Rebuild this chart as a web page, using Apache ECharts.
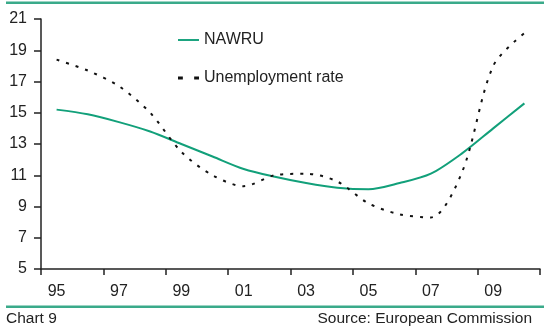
<!DOCTYPE html>
<html>
<head>
<meta charset="utf-8">
<script src="https://cdn.jsdelivr.net/npm/echarts@6/dist/echarts.min.js"></script>
<style>
  html, body { margin: 0; padding: 0; background: #fff; }
  #chart { width: 544px; height: 328px; }
</style>
</head>
<body>
<div id="chart"></div>
<script>
// Years shown on the category axis (labels every other year)
const years = ['95','96','97','98','99','00','01','02','03','04','05','06','07','08','09','10'];
// Non-accelerating wage rate of unemployment, %
const nawru = [15.2, 14.9, 14.4, 13.8, 13.0, 12.2, 11.4, 10.9, 10.5, 10.2, 10.1, 10.5, 11.1, 12.4, 14.0, 15.6];
// Actual unemployment rate, %
const unemployment = [18.4, 17.7, 16.7, 15.0, 12.5, 11.0, 10.3, 11.0, 11.1, 10.6, 9.2, 8.5, 8.3, 11.2, 18.0, 20.1];
// Y-axis range
const yMin = 5, yMax = 21, yStep = 2;

const green = '#12a07a';
const font = 'Liberation Sans, Arial, sans-serif';

const chart = echarts.init(document.getElementById('chart'));
chart.setOption({
  animation: false,
  textStyle: { fontFamily: font },
  grid: { left: 41, right: 4, top: 19, bottom: 59 },
  legend: {
    orient: 'vertical',
    left: 173,
    top: 27,
    itemGap: 22,
    itemWidth: 21,
    itemHeight: 16,
    textStyle: { fontFamily: font, fontSize: 16, color: '#222' },
    data: [
      { name: 'NAWRU', icon: 'path://M0,7H22V9H0Z', itemStyle: { color: green } },
      { name: 'Unemployment rate', icon: 'path://M2,7H5V9H2ZM12,7H15V9H12Z', itemStyle: { color: '#111' } }
    ]
  },
  xAxis: {
    type: 'category',
    data: years,
    boundaryGap: true,
    axisLine: { lineStyle: { color: '#222', width: 1.5 } },
    axisTick: { show: true, interval: 1, length: 6, lineStyle: { color: '#222', width: 1.5 } },
    axisLabel: { interval: 1, margin: 15, fontSize: 16, color: '#222', fontFamily: font }
  },
  yAxis: {
    type: 'value',
    min: yMin,
    max: yMax,
    interval: yStep,
    splitLine: { show: false },
    axisLine: { show: true, lineStyle: { color: '#222', width: 1.5 } },
    axisTick: { show: true, length: 7, lineStyle: { color: '#222', width: 1.5 } },
    axisLabel: { margin: 14, fontSize: 16, color: '#222', fontFamily: font }
  },
  series: [
    {
      name: 'NAWRU',
      type: 'line',
      data: nawru,
      smooth: 0.3,
      symbol: 'none',
      lineStyle: { color: green, width: 2 },
      itemStyle: { color: green }
    },
    {
      name: 'Unemployment rate',
      type: 'line',
      data: unemployment,
      smooth: 0.3,
      symbol: 'none',
      lineStyle: { color: '#111', width: 2, type: [3, 7] },
      itemStyle: { color: '#111' }
    }
  ],
  graphic: [
    { type: 'rect', shape: { x: 6, y: 1.5, width: 538, height: 2.5 }, style: { fill: '#3aaa8a' } },
    { type: 'rect', shape: { x: 6, y: 305.5, width: 538, height: 2.5 }, style: { fill: '#3aaa8a' } },
    { type: 'text', left: 6, top: 311, style: { text: 'Chart 9', font: '15.5px ' + font, fill: '#222' } },
    { type: 'text', right: 12, top: 311, style: { text: 'Source: European Commission', font: '15.5px ' + font, fill: '#222' } }
  ]
});
</script>
</body>
</html>
